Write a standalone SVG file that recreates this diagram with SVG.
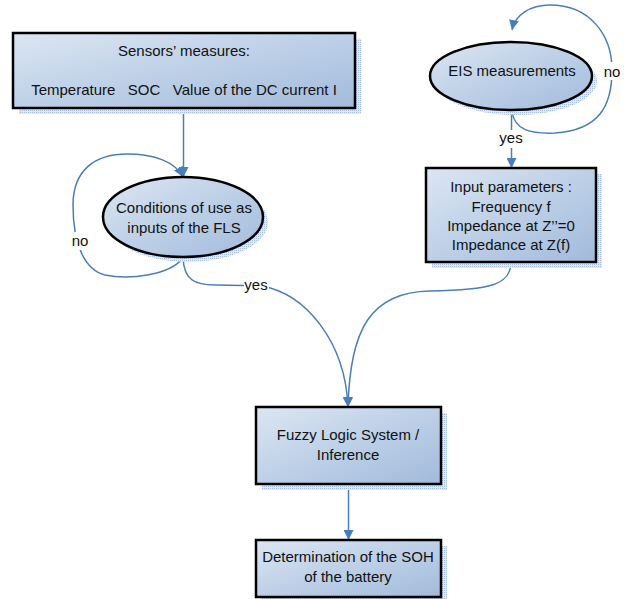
<svg xmlns="http://www.w3.org/2000/svg" width="627" height="599" viewBox="0 0 627 599">
<style>
.box{fill:url(#g);stroke:#000;stroke-width:2.5}
.sh{fill:url(#hatch)}
.edge{fill:none;stroke:#4a7ebb;stroke-width:1.5}
.t{font-family:"Liberation Sans",Arial,sans-serif;font-size:15px;text-anchor:middle;fill:#111}
.bg{fill:#fff}
</style>
<defs>
<linearGradient id="g" x1="0" y1="0" x2="1" y2="1">
<stop offset="0" stop-color="#dce6f2"/>
<stop offset="0.5" stop-color="#bdd0e7"/>
<stop offset="1" stop-color="#a2badb"/>
</linearGradient>
<pattern id="hatch" width="2" height="2" patternUnits="userSpaceOnUse">
<rect width="2" height="2" fill="#dfe8f4"/>
<rect width="1" height="1" fill="#a9c0df"/>
</pattern>
<marker id="ah" markerWidth="10" markerHeight="10" refX="10" refY="5" orient="auto" markerUnits="userSpaceOnUse">
<path d="M0,0 L10,5 L0,10 z" fill="#4a7ebb"/>
</marker>
</defs>

<g id="connectors">
<path class="edge" d="M183.5,108 L183.5,177" marker-end="url(#ah)"/>
<path class="edge" d="M183,258 C170,275 130,280 105,275 C85,270 73,245 73,205 C73,170 95,154 127,154 C155,154 175,162 183,177" marker-end="url(#ah)"/>
<path class="edge" d="M512,112 C515,130 530,134 555,133 C600,130 612,105 612,70 C612,35 590,5 550,5 C530,5 515,15 512,30" marker-end="url(#ah)"/>
<path class="edge" d="M511.5,112 L511.5,168" marker-end="url(#ah)"/>
<path class="edge" d="M183,258 C184,280 195,285 215,285 L262,286 C305,294 345,340 348,407" marker-end="url(#ah)"/>
<path class="edge" d="M511,262 C511,285 490,290 430,291 C370,292 350,330 348,407" marker-end="url(#ah)"/>
<path class="edge" d="M348.5,484 L348.5,540" marker-end="url(#ah)"/>
<rect class="bg" x="70" y="232" width="20" height="18"/>
<text class="t" x="80" y="246">no</text>
<rect class="bg" x="602" y="62" width="20" height="18"/>
<text class="t" x="612" y="77">no</text>
<rect class="bg" x="499" y="130" width="25" height="18"/>
<text class="t" x="511" y="143">yes</text>
<rect class="bg" x="244" y="276" width="25" height="18"/>
<text class="t" x="256" y="290">yes</text>
</g>

<g id="sensors">
<rect class="sh" x="19" y="39" width="342" height="75"/>
<rect class="box" x="13" y="33" width="342" height="75"/>
<text class="t" x="184" y="56">Sensors’ measures:</text>
<text class="t" x="184" y="95" xml:space="preserve">Temperature   SOC   Value of the DC current I</text>
</g>

<g id="conditions">
<ellipse class="sh" cx="188" cy="222" rx="80" ry="40"/>
<ellipse class="box" cx="183" cy="217" rx="80" ry="40"/>
<text class="t" x="184" y="213">Conditions of use as</text>
<text class="t" x="184" y="233">inputs of the FLS</text>
</g>

<g id="eis">
<ellipse class="sh" cx="516" cy="81" rx="81" ry="34"/>
<ellipse class="box" cx="511" cy="76" rx="81" ry="34"/>
<text class="t" x="512" y="76">EIS measurements</text>
</g>

<g id="inputs">
<rect class="sh" x="432" y="174" width="170" height="94"/>
<rect class="box" x="426" y="168" width="170" height="94"/>
<text class="t" x="511" y="192">Input parameters :</text>
<text class="t" x="511" y="212">Frequency f</text>
<text class="t" x="511" y="231">Impedance at Z’’=0</text>
<text class="t" x="511" y="250">Impedance at Z(f)</text>
</g>

<g id="fuzzy">
<rect class="sh" x="262" y="413" width="185" height="77"/>
<rect class="box" x="256" y="407" width="185" height="77"/>
<text class="t" x="348" y="440">Fuzzy Logic System /</text>
<text class="t" x="348" y="460">Inference</text>
</g>

<g id="soh">
<rect class="sh" x="262" y="546" width="185" height="57"/>
<rect class="box" x="256" y="540" width="185" height="57"/>
<text class="t" x="348" y="562">Determination of the SOH</text>
<text class="t" x="348" y="582">of the battery</text>
</g>
</svg>
